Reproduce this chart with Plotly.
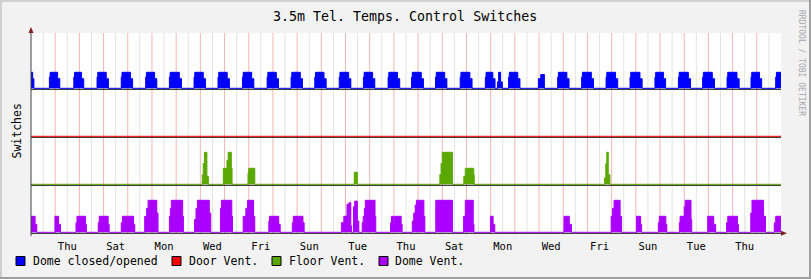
import plotly.graph_objects as go

# ---------------- data (days since start of window; step values) ----------------
day_labels = ["Thu", "Sat", "Mon", "Wed", "Fri", "Sun", "Tue", "Thu",
              "Sat", "Mon", "Wed", "Fri", "Sun", "Tue", "Thu"]
series_names = ["Dome closed/opened", "Door Vent.", "Floor Vent.", "Dome Vent."]
series_colors = ["#0000ff", "#ff0000", "#5aa800", "#aa00ff"]
series_offsets = [9, 6, 3, 0]

dome_steps = [
    (0.00, 1.0), (0.07, 0.6), (0.12, 0),
    (0.76, 0.7), (0.79, 1), (1.10, 0.6), (1.19, 0),
    (1.77, 0.7), (1.80, 1), (2.09, 0.6), (2.18, 0),
    (2.73, 0.7), (2.76, 1), (3.11, 0.6), (3.20, 0),
    (3.73, 0.7), (3.76, 1), (4.11, 0.6), (4.20, 0),
    (4.74, 0.7), (4.77, 1), (5.11, 0.6), (5.20, 0),
    (5.72, 0.7), (5.75, 1), (6.13, 0.6), (6.22, 0),
    (6.74, 0.7), (6.77, 1), (7.12, 0.6), (7.21, 0),
    (7.73, 0.7), (7.76, 1), (8.11, 0.6), (8.20, 0),
    (8.74, 0.7), (8.77, 1), (9.12, 0.6), (9.21, 0),
    (9.76, 0.7), (9.79, 1), (10.14, 0.6), (10.23, 0),
    (10.75, 0.7), (10.78, 1), (11.13, 0.6), (11.22, 0),
    (11.73, 0.7), (11.76, 1), (12.11, 0.6), (12.20, 0),
    (12.74, 0.7), (12.77, 1), (13.13, 0.6), (13.22, 0),
    (13.74, 0.7), (13.77, 1), (14.12, 0.6), (14.21, 0),
    (14.76, 0.7), (14.79, 1), (15.15, 0.6), (15.24, 0),
    (15.73, 0.7), (15.76, 1), (16.13, 0.6), (16.22, 0),
    (16.72, 0.7), (16.75, 1), (17.10, 0.6), (17.19, 0),
    (17.74, 0.7), (17.77, 1), (18.14, 0.6), (18.23, 0),
    (18.78, 0.7), (18.81, 1), (19.09, 0.6), (19.18, 0),
    (19.28, 0.4), (19.33, 1), (19.41, 0.4), (19.48, 0),
    (19.74, 0.7), (19.77, 1), (20.12, 0.6), (20.21, 0),
    (20.97, 0.6), (21.07, 0.86), (21.22, 0),
    (21.77, 0.7), (21.80, 1), (22.15, 0.6), (22.24, 0),
    (22.76, 0.7), (22.79, 1), (23.16, 0.6), (23.25, 0),
    (23.77, 0.7), (23.80, 1), (24.16, 0.6), (24.25, 0),
    (24.76, 0.7), (24.79, 1), (25.17, 0.6), (25.26, 0),
    (25.79, 0.7), (25.82, 1), (26.14, 0.6), (26.23, 0),
    (26.76, 0.7), (26.79, 1), (27.17, 0.6), (27.26, 0),
    (27.76, 0.7), (27.79, 1), (28.16, 0.6), (28.25, 0),
    (28.77, 0.7), (28.80, 1), (29.18, 0.6), (29.27, 0),
    (29.76, 0.7), (29.79, 1), (30.11, 0.6), (30.20, 0),
    (30.78, 0.7), (30.81, 1), (31.00, 1),
]

door_steps = [(0.0, 0), (31.0, 0)]

floor_steps = [
    (0.00, 0),
    (7.08, 0.6), (7.12, 1.3), (7.17, 2.0), (7.27, 0.5), (7.33, 0),
    (7.95, 1.0), (8.10, 1.5), (8.15, 2.0), (8.28, 1.0), (8.31, 0),
    (8.97, 0.7), (9.00, 1.0), (9.25, 0),
    (13.36, 0.75), (13.49, 0),
    (16.90, 0.6), (16.95, 1.3), (17.00, 2.0), (17.42, 0),
    (17.89, 0.5), (17.95, 1.0), (18.30, 0.6), (18.32, 0),
    (23.71, 0.4), (23.76, 1.3), (23.80, 2.0), (23.86, 0.6), (23.93, 0),
    (31.00, 0),
]

dvent_steps = [
    (0.00, 1.0), (0.17, 0.5), (0.24, 0),
    (0.99, 1.0), (1.14, 0.5), (1.22, 0),
    (1.86, 0.6), (1.90, 1.0), (2.25, 0.5), (2.29, 0),
    (2.78, 0.6), (2.82, 1.0), (3.19, 0.5), (3.23, 0),
    (3.73, 0.6), (3.78, 1.0), (4.24, 0.5), (4.29, 0),
    (4.70, 1.0), (4.78, 1.5), (4.84, 2.0), (5.20, 1.2), (5.25, 0),
    (5.72, 1.0), (5.76, 1.5), (5.80, 2.0), (6.27, 1.0), (6.30, 0),
    (6.76, 0.8), (6.82, 1.5), (6.88, 2.0), (7.37, 1.2), (7.43, 0),
    (7.83, 1.5), (7.87, 2.0), (8.30, 1.0), (8.33, 0),
    (8.77, 1.0), (8.88, 1.5), (8.95, 2.0), (9.20, 1.0), (9.25, 0),
    (9.83, 0.7), (9.86, 1.0), (10.24, 0.5), (10.30, 0),
    (10.80, 0.6), (10.84, 1.0), (11.24, 0.6), (11.29, 0),
    (12.83, 0.6), (12.93, 1.0), (13.06, 1.75), (13.14, 1.85), (13.22, 0.4), (13.25, 0),
    (13.33, 1.6), (13.38, 1.95), (13.49, 0.7), (13.55, 0),
    (13.69, 0.6), (13.73, 1.0), (13.78, 1.5), (13.82, 2.0), (14.22, 1.0), (14.25, 0),
    (14.86, 0.6), (14.90, 1.0), (14.98, 0.6), (15.02, 1.0), (15.30, 0.5), (15.34, 0),
    (15.76, 0.7), (15.82, 1.2), (15.88, 1.7), (15.93, 2.0), (16.24, 1.0), (16.28, 0),
    (16.73, 2.0), (17.42, 0),
    (17.88, 1.0), (17.95, 2.0), (18.28, 0.5), (18.31, 0),
    (18.99, 1.0), (19.10, 0.5), (19.17, 0),
    (22.03, 1.0), (22.25, 0.5), (22.34, 0),
    (23.98, 1.0), (24.04, 1.5), (24.10, 2.0), (24.35, 1.0), (24.41, 0),
    (25.03, 1.0), (25.20, 0.5), (25.24, 0),
    (25.93, 0.6), (25.97, 1.0), (26.24, 0.5), (26.28, 0),
    (26.80, 0.6), (26.83, 1.0), (27.00, 1.6), (27.04, 2.0), (27.28, 0.8), (27.31, 0),
    (27.97, 1.0), (28.22, 0.5), (28.30, 0),
    (28.75, 0.6), (28.80, 1.0), (29.20, 0.5), (29.24, 0),
    (29.75, 1.2), (29.80, 2.0), (30.28, 1.0), (30.36, 0),
    (30.72, 0.6), (30.78, 1.0), (31.00, 1.0),
]

all_steps = [dome_steps, door_steps, floor_steps, dvent_steps]
n_days = 31

# ---------------- layout geometry ----------------
W, H = 811, 279
L, R, T, B = 31, 30, 33, 45
PW, PH = W - L - R, H - T - B
PXU = 16.0                      # pixels per unit
Y0PIX = 232.3                   # pixel row of value 0 of bottom band
ymin = -(T + PH - Y0PIX) / PXU
ymax = (Y0PIX - T) / PXU


def PX(px):
    return (px - L) / PW


def PY(py):
    return (T + PH - py) / PH


FONT = "DejaVu Sans Mono"
fig = go.Figure()

for steps, off, col, name in zip(all_steps, series_offsets, series_colors, series_names):
    xs = [s[0] for s in steps]
    ys = [off + s[1] for s in steps]
    fig.add_trace(go.Scatter(x=[0, n_days], y=[off, off], mode="lines",
                             line=dict(width=0, color=col), showlegend=False,
                             hoverinfo="skip"))
    fig.add_trace(go.Scatter(x=xs, y=ys, mode="lines", line_shape="hv",
                             line=dict(color=col, width=1), fill="tonexty",
                             fillcolor=col, name=name, showlegend=False))

shapes = []
# minor grid (grey, half days) and major grid (red, midnight)
for i in range(n_days):
    shapes.append(dict(type="line", xref="x", yref="paper", x0=i + 0.5, x1=i + 0.5,
                       y0=0, y1=1, line=dict(color="#e3e3e3", width=1), layer="below"))
for i in range(1, n_days):
    shapes.append(dict(type="line", xref="x", yref="paper", x0=i, x1=i,
                       y0=0, y1=1, line=dict(color="#f3b6b6", width=1), layer="below"))
# black baselines of each band
for off in series_offsets:
    yb = off - 1.0 / PXU
    shapes.append(dict(type="line", xref="paper", yref="y", x0=0, x1=1, y0=yb, y1=yb,
                       line=dict(color="#000000", width=1.1), layer="below"))
# y axis line and arrows
shapes.append(dict(type="line", xref="paper", yref="paper", x0=PX(31), x1=PX(31),
                   y0=PY(236), y1=PY(30), line=dict(color="#404040", width=1)))
shapes.append(dict(type="path", xref="paper", yref="paper",
                   path=f"M {PX(28.5)} {PY(33)} L {PX(33.5)} {PY(33)} L {PX(31)} {PY(27)} Z",
                   fillcolor="#801f1f", line=dict(width=0)))
shapes.append(dict(type="path", xref="paper", yref="paper",
                   path=f"M {PX(781)} {PY(230.8)} L {PX(781)} {PY(235.8)} L {PX(787)} {PY(233.3)} Z",
                   fillcolor="#801f1f", line=dict(width=0)))
# frame shading
shapes += [
    dict(type="rect", xref="paper", yref="paper", x0=PX(0), x1=PX(W), y0=PY(0), y1=PY(2),
         fillcolor="#cfcfcf", line=dict(width=0)),
    dict(type="rect", xref="paper", yref="paper", x0=PX(0), x1=PX(2), y0=PY(0), y1=PY(H),
         fillcolor="#cfcfcf", line=dict(width=0)),
    dict(type="rect", xref="paper", yref="paper", x0=PX(0), x1=PX(W), y0=PY(H - 2), y1=PY(H),
         fillcolor="#9e9e9e", line=dict(width=0)),
    dict(type="rect", xref="paper", yref="paper", x0=PX(W - 2), x1=PX(W), y0=PY(0), y1=PY(H),
         fillcolor="#9e9e9e", line=dict(width=0)),
]

annotations = []
# legend
leg_sq = [16, 172, 272, 379]
leg_tx = [30.5, 186.5, 286.5, 393.0]
for sx, tx, col, name in zip(leg_sq, leg_tx, series_colors, series_names):
    shapes.append(dict(type="rect", xref="paper", yref="paper", x0=PX(sx), x1=PX(sx + 9),
                       y0=PY(265.5), y1=PY(256.5), fillcolor=col,
                       line=dict(color="#000000", width=1)))
    annotations.append(dict(xref="paper", yref="paper", x=PX(tx), y=PY(261), text=name,
                            showarrow=False, xanchor="left", yanchor="middle",
                            font=dict(family=FONT, size=11.5, color="#000000")))

annotations.append(dict(xref="paper", yref="paper", x=PX(405), y=PY(16),
                        text="3.5m Tel. Temps. Control Switches", showarrow=False,
                        xanchor="center", yanchor="middle",
                        font=dict(family=FONT, size=13.3, color="#000000")))
annotations.append(dict(xref="paper", yref="paper", x=PX(16), y=PY(131.5), text="Switches",
                        showarrow=False, textangle=-90, xanchor="center", yanchor="middle",
                        font=dict(family=FONT, size=11.5, color="#000000")))
annotations.append(dict(xref="paper", yref="paper", x=PX(802), y=PY(63),
                        text="RRDTOOL / TOBI OETIKER", showarrow=False, textangle=90,
                        xanchor="center", yanchor="middle",
                        font=dict(family=FONT, size=8, color="#a8a8a8")))

fig.update_layout(
    width=W, height=H,
    margin=dict(l=L, r=R, t=T, b=B, pad=0),
    paper_bgcolor="#f2f2f2", plot_bgcolor="#ffffff",
    showlegend=False,
    shapes=shapes, annotations=annotations,
    xaxis=dict(range=[0, n_days], tickmode="array",
               tickvals=[1.5 + 2 * i for i in range(len(day_labels))],
               ticktext=day_labels, showgrid=False, zeroline=False, showline=False,
               ticks="outside", ticklen=2, tickcolor="rgba(0,0,0,0)",
               tickfont=dict(family=FONT, size=10.5, color="#000000"), fixedrange=True),
    yaxis=dict(range=[ymin, ymax], visible=False, showgrid=False, zeroline=False,
               fixedrange=True),
)

fig.write_html("out.html", config={"displayModeBar": False})
